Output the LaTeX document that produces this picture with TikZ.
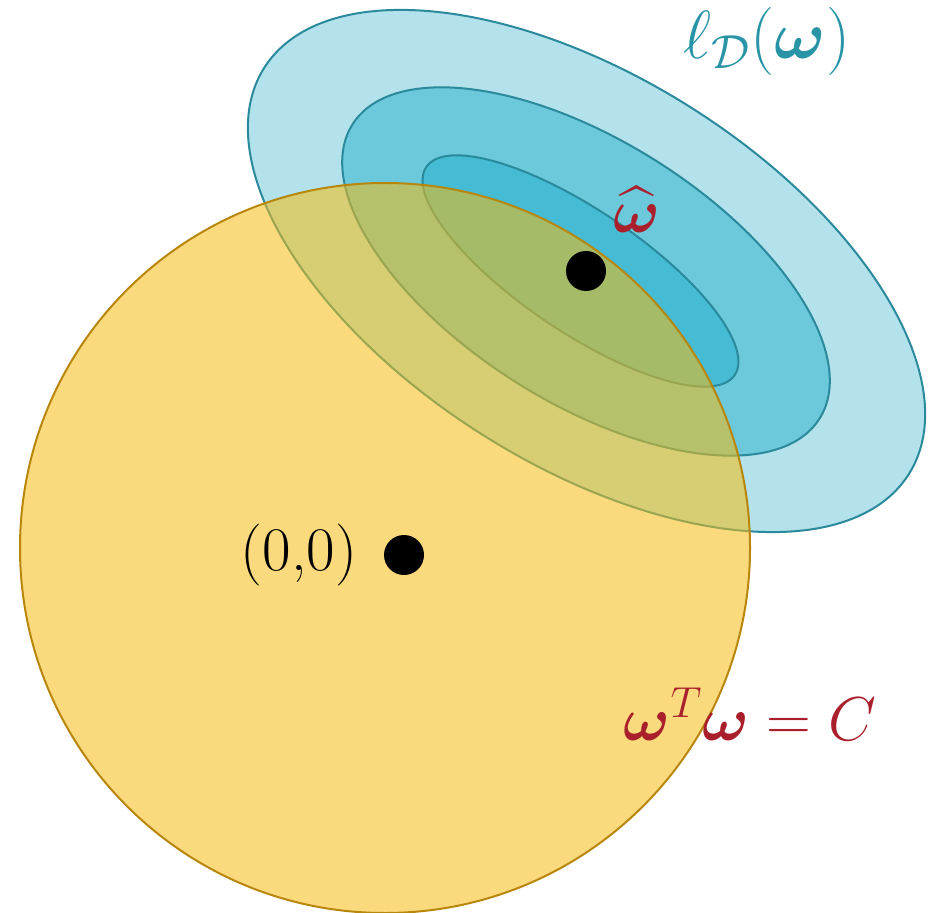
\RequirePackage{fix-cm}
\documentclass[tikz,border=0pt]{standalone}
\usepackage{amsmath,amssymb,bm}
\usetikzlibrary{positioning}

\definecolor{lossouter}{RGB}{179,226,236}
\definecolor{lossmid}{RGB}{108,201,220}
\definecolor{lossinner}{RGB}{69,187,212}
\definecolor{lossedge}{RGB}{42,138,156}
\definecolor{losstext}{RGB}{40,148,166}
\definecolor{ballfill}{RGB}{246,188,17}
\definecolor{balledge}{RGB}{184,134,11}
\definecolor{optred}{RGB}{169,31,43}

\begin{document}
\begin{tikzpicture}[x=0.5pt, y=-0.5pt,
    every node/.style={font=\fontsize{31}{37}\selectfont, inner sep=0pt},
    blob/.style={draw=lossedge, line width=1pt},
    ball/.style={draw=balledge, line width=1pt, fill=ballfill, fill opacity=0.55},
    dot/.style={circle, fill=black, minimum size=20pt}]
    \useasboundingbox (0,0) rectangle (940,913);
    % level sets of the loss
    \draw[blob, fill=lossouter, rotate around={-32.2:(586.5,271)}] (586.5,271) ellipse [x radius=381, y radius=194];
    \draw[blob, fill=lossmid, rotate around={-32.2:(586,271.5)}] (586,271.5) ellipse [x radius=276, y radius=131];
    \draw[blob, fill=lossinner, rotate around={-34:(580.5,271)}] (580.5,271) ellipse [x radius=186, y radius=61];
    % constraint region
    \draw[ball] (385,548) circle[radius=365];
    \node[dot] (origin) at (404,555) {};
    \node[dot] (wopt) at (586,271) {};
    \node[left=13pt of origin] (originlabel) {(0,0)};
    \node[text=optred] (woptlabel) at (637,210) {$\widehat{\bm{\omega}}$};
    \node[text=losstext, scale=1.1] (losslabel) at (767,41) {$\ell_{\mathcal{D}}(\bm{\omega})$};
    \node[text=optred] (constraint) at (750,714) {$\bm{\omega}^T\bm{\omega} = C$};
\end{tikzpicture}
\end{document}
